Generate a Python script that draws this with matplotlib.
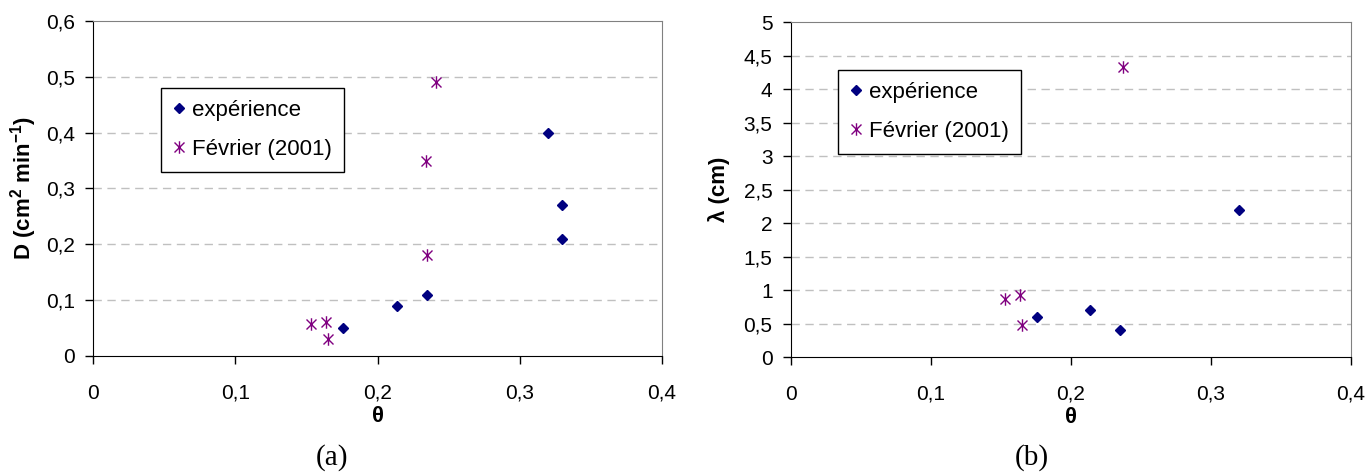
import numpy as np
import matplotlib
matplotlib.use("Agg")
import matplotlib.pyplot as plt
from matplotlib.path import Path
from matplotlib.ticker import FuncFormatter

plt.rcParams['font.family'] = ['Liberation Sans', 'DejaVu Sans']
plt.rcParams['mathtext.fontset'] = 'custom'
plt.rcParams['mathtext.rm'] = 'Liberation Sans'
plt.rcParams['mathtext.bf'] = 'Liberation Sans:bold'

################################################################################
# data
# (a) D vs theta
theta_exp_a = [0.176, 0.214, 0.235, 0.320, 0.330, 0.330]
D_exp = [0.05, 0.09, 0.11, 0.40, 0.27, 0.21]
theta_fev_a = [0.153, 0.164, 0.165, 0.235, 0.234, 0.241]
D_fev = [0.057, 0.060, 0.031, 0.18, 0.35, 0.49]
# (b) lambda vs theta
theta_exp_b = [0.176, 0.214, 0.235, 0.320]
lam_exp = [0.60, 0.70, 0.40, 2.20]
theta_fev_b = [0.153, 0.164, 0.165, 0.237]
lam_fev = [0.86, 0.93, 0.48, 4.33]

xticks = [0, 0.1, 0.2, 0.3, 0.4]
yticks_a = [0, 0.1, 0.2, 0.3, 0.4, 0.5, 0.6]
yticks_b = [0, 0.5, 1, 1.5, 2, 2.5, 3, 3.5, 4, 4.5, 5]
labels = ["expérience", "Février (2001)"]

################################################################################
# excel style asterisk marker: an X plus a vertical bar
star = Path([(-1, -1), (1, 1), (-1, 1), (1, -1), (0, -1.25), (0, 1.25)],
            [Path.MOVETO, Path.LINETO, Path.MOVETO, Path.LINETO, Path.MOVETO, Path.LINETO])

def comma(v, pos):
    return ("%g" % round(v, 3)).replace(".", ",")

def setup(ax, yticks, ylabel, ylpad):
    ax.set_xlim(0, 0.4)
    ax.set_ylim(yticks[0], yticks[-1])
    ax.set_xticks(xticks)
    ax.set_yticks(yticks)
    ax.xaxis.set_major_formatter(FuncFormatter(comma))
    ax.yaxis.set_major_formatter(FuncFormatter(comma))
    ax.tick_params(direction='out', length=6, width=1, labelsize=15)
    ax.tick_params(axis='x', pad=14)
    ax.tick_params(axis='y', pad=7)
    for tick in ax.get_yticks()[1:-1]:
        ax.axhline(tick, color='#c0c0c0', lw=1, ls=(0, (6, 4)), zorder=0)
    ax.spines['left'].set_color('black')
    ax.spines['bottom'].set_color('black')
    ax.spines['top'].set_color('#808080')
    ax.spines['right'].set_color('#808080')
    ax.set_xlabel("θ", fontsize=16, fontweight='bold', labelpad=2)
    ax.set_ylabel(ylabel, fontsize=16, fontweight='bold', labelpad=ylpad)

def legend(ax, anchor):
    leg = ax.legend(labels, loc='upper left', bbox_to_anchor=anchor, fontsize=16,
                    frameon=True, fancybox=False, edgecolor='black', framealpha=1,
                    handlelength=0.5, handletextpad=0.35, labelspacing=0.8,
                    borderpad=0.55, borderaxespad=0)
    leg.get_frame().set_linewidth(1)

fig = plt.figure(figsize=(13.7, 4.72), dpi=100)
axA = fig.add_axes([0.0679, 0.2458, 0.4153, 0.7097])
axB = fig.add_axes([0.5771, 0.2436, 0.4090, 0.7097])

for ax, tx, ye, tf, yf in [(axA, theta_exp_a, D_exp, theta_fev_a, D_fev),
                           (axB, theta_exp_b, lam_exp, theta_fev_b, lam_fev)]:
    ax.plot(tx, ye, ls='none', marker='D', ms=4.6, color='#000080', mec='#000080', zorder=3)
    ax.plot(tf, yf, ls='none', marker=star, ms=9, color='#800080', mec='#800080', mew=1, zorder=3)

setup(axA, yticks_a, "D (cm$^{\\mathbf{2}}$ min$^{\\mathbf{-1}}$)", 5)
setup(axB, yticks_b, "λ (cm)", 10)
legend(axA, (0.1195, 0.80))
legend(axB, (0.085, 0.858))

fig.text(0.242, 0.03, "(a)", fontsize=21, family='Liberation Serif', ha='center', va='center')
fig.text(0.753, 0.03, "(b)", fontsize=21, family='Liberation Serif', ha='center', va='center')

fig.savefig("out.png", dpi=100)
